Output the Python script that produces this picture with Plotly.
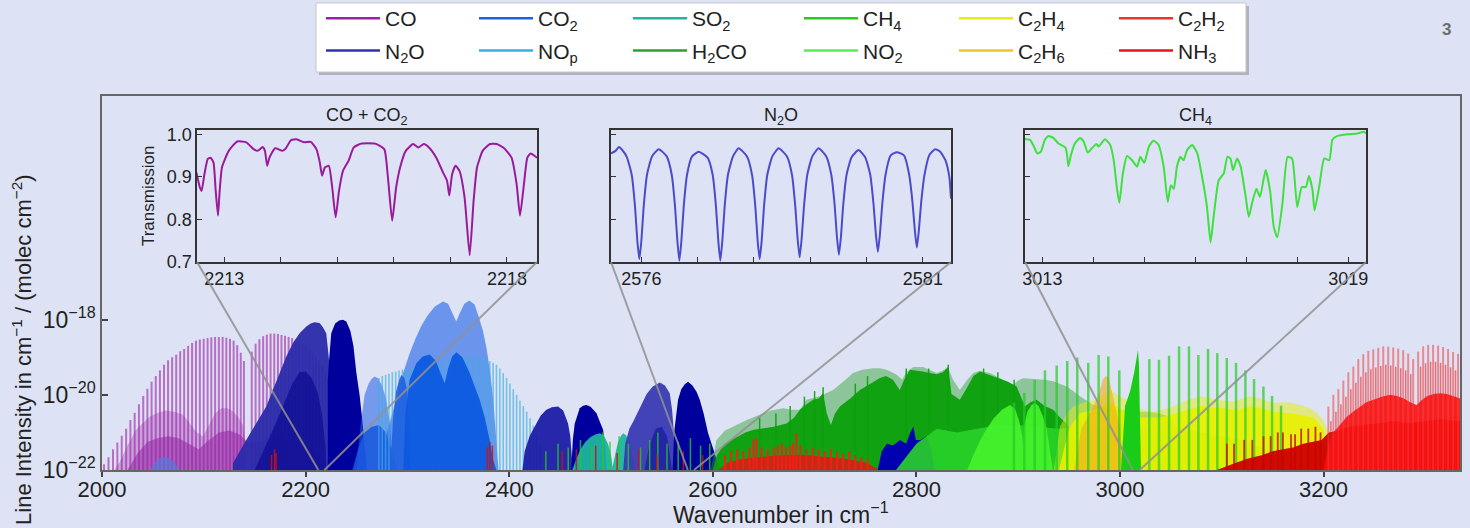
import plotly.graph_objects as go

# ---------------------------------------------------------------- style
FONT = "Liberation Sans, Arial, sans-serif"
BG = "#dde3f4"
INSET_BG = "#e6eaf7"

LABELS = {"CO": "CO", "N2O": "N<sub>2</sub>O", "CO2": "CO<sub>2</sub>", "NOp": "NO<sub>p</sub>",
          "SO2": "SO<sub>2</sub>", "H2CO": "H<sub>2</sub>CO", "CH4": "CH<sub>4</sub>",
          "NO2": "NO<sub>2</sub>", "C2H4": "C<sub>2</sub>H<sub>4</sub>",
          "C2H6": "C<sub>2</sub>H<sub>6</sub>", "C2H2": "C<sub>2</sub>H<sub>2</sub>", "NH3": "NH<sub>3</sub>"}
COLORS = {"CO": "#9c1fa8", "N2O": "#3030b2", "CO2": "#1f5fe6", "NOp": "#3caee6", "SO2": "#1fb3a0",
          "H2CO": "#2ca02c", "CH4": "#22cc22", "NO2": "#55ee55", "C2H4": "#e6ee10",
          "C2H6": "#f2c12e", "C2H2": "#f23030", "NH3": "#e01818"}
LEGEND_COLUMNS = [("CO", "N2O"), ("CO2", "NOp"), ("SO2", "H2CO"), ("CH4", "NO2"), ("C2H4", "C2H6"), ("C2H2", "NH3")]

# ---------------------------------------------------------------- main spectrum data
# wavenumbers in cm^-1, intensities given as log10(line intensity)
CO_P_WN = [2002.0, 2006.4, 2010.8, 2015.1, 2019.4, 2023.7, 2027.9, 2032.1, 2036.3, 2040.5, 2044.6, 2048.7,
           2052.8, 2056.9, 2060.9, 2064.9, 2068.9, 2072.9, 2076.8, 2080.7, 2084.6, 2088.5, 2092.3, 2096.1,
           2099.9, 2103.7, 2107.4, 2111.1, 2114.8, 2118.5, 2122.1, 2125.7, 2129.3, 2132.8, 2136.3, 2139.4]
CO_P_LOG = [-21.85, -21.66, -21.45, -21.27, -21.09, -20.90, -20.67, -20.48, -20.25, -20.03, -19.84, -19.65,
            -19.50, -19.35, -19.20, -19.08, -19.00, -18.93, -18.84, -18.78, -18.70, -18.62, -18.56, -18.53,
            -18.51, -18.49, -18.47, -18.46, -18.46, -18.46, -18.48, -18.51, -18.56, -18.68, -18.88, -19.10]
CO_R_WN = [2147.1, 2150.9, 2154.6, 2158.3, 2161.9, 2165.6, 2169.2, 2172.8, 2176.3, 2179.8, 2183.3, 2186.8,
           2190.2, 2193.6, 2197.0, 2200.3, 2203.6, 2206.9, 2210.1, 2213.3, 2216.5, 2219.6, 2222.7]
CO_R_LOG = [-18.85, -18.64, -18.52, -18.44, -18.40, -18.37, -18.37, -18.38, -18.41, -18.43, -18.46, -18.49,
            -18.53, -18.58, -18.64, -18.71, -18.79, -18.88, -18.98, -19.10, -19.23, -19.38, -19.55]
CO_ISO_WN = [2012.0, 2017.2, 2025.0, 2033.5, 2040.0, 2046.6, 2055.0, 2063.1, 2071.0, 2079.5, 2086.0,
             2092.6, 2099.1, 2105.7, 2111.0, 2117.2, 2123.0, 2128.6, 2134.0, 2138.5, 2141.7, 2146.0]
CO_ISO_LOG = [-22.0, -21.80, -21.35, -20.93, -20.75, -20.58, -20.48, -20.42, -20.45, -20.53, -20.75,
              -20.98, -21.11, -20.76, -20.50, -20.36, -20.36, -20.44, -20.60, -20.80, -21.47, -22.0]
CO_HOT_WN = [2025.0, 2035.0, 2045.0, 2055.0, 2065.0, 2075.0, 2085.0, 2095.0, 2105.0, 2115.0, 2125.0,
             2135.0, 2145.0, 2160.0, 2175.0, 2190.0, 2205.0, 2218.0, 2228.0]
CO_HOT_LOG = [-22.0, -21.55, -21.25, -21.15, -21.1, -21.15, -21.3, -21.45, -21.2, -21.0, -20.95,
              -21.05, -21.3, -21.2, -21.1, -21.2, -21.4, -21.7, -22.0]

N2O_A_WN = [2128.6, 2141.7, 2151.5, 2161.4, 2167.9, 2174.4, 2181.0, 2187.6, 2194.1, 2200.7, 2205.0,
            2208.8, 2213.8, 2217.0, 2220.3, 2222.0, 2223.6]
N2O_A_LOG = [-21.82, -21.20, -20.76, -20.31, -19.87, -19.42, -18.98, -18.62, -18.36, -18.18, -18.10,
             -18.07, -18.09, -18.20, -18.36, -18.80, -19.24]
N2O_B_WN = [2221.8, 2223.0, 2224.2, 2225.2, 2229.0, 2233.0, 2236.7, 2240.0, 2244.0, 2247.0, 2249.8,
            2253.0, 2256.0, 2258.0, 2260.0]
N2O_B_LOG = [-19.6, -19.1, -18.7, -18.36, -18.10, -18.02, -18.00, -18.05, -18.30, -18.70, -19.40,
             -20.00, -20.75, -21.40, -21.90]
N2O_C_WN = [2150.0, 2160.0, 2170.0, 2180.0, 2187.0, 2194.0, 2200.0, 2206.0, 2212.0, 2216.0, 2220.0]
N2O_C_LOG = [-22.0, -21.4, -20.8, -20.15, -19.7, -19.4, -19.38, -19.55, -19.95, -20.5, -21.5]
N2O_D_WN = [2413.0, 2415.2, 2420.0, 2426.7, 2431.0, 2436.5, 2442.0, 2448.0, 2453.0, 2457.8, 2460.0, 2461.5, 2462.5]
N2O_D_LOG = [-22.0, -21.5, -21.1, -20.76, -20.55, -20.40, -20.33, -20.31, -20.42, -20.76, -21.1, -21.64, -22.0]
N2O_E_WN = [2461.0, 2462.5, 2464.4, 2469.3, 2472.5, 2475.9, 2480.0, 2485.7, 2489.0, 2492.2, 2494.5, 2496.0]
N2O_E_LOG = [-22.0, -21.2, -20.76, -20.36, -20.29, -20.27, -20.32, -20.49, -20.7, -20.93, -21.4, -22.0]
N2O_F_WN = [2512.0, 2514.0, 2518.0, 2522.0, 2528.0, 2535.0, 2541.0, 2548.0, 2553.0, 2557.7, 2560.0, 2561.5, 2563.0]
N2O_F_LOG = [-22.0, -21.3, -20.9, -20.7, -20.35, -19.98, -19.78, -19.67, -19.75, -19.96, -20.4, -20.9, -22.0]
N2O_G_WN = [2560.5, 2562.0, 2564.0, 2565.9, 2569.0, 2572.5, 2575.7, 2580.0, 2584.0, 2587.2, 2591.0,
            2595.4, 2600.0, 2603.6, 2607.0]
N2O_G_LOG = [-22.0, -21.0, -20.45, -20.13, -19.85, -19.72, -19.65, -19.75, -19.92, -20.13, -20.5,
             -21.02, -21.4, -21.71, -22.0]
N2O_H_WN = [2762.0, 2766.0, 2771.0, 2777.0, 2784.0, 2790.0, 2794.0, 2797.0, 2799.5, 2804.0, 2810.0, 2814.0, 2818.0]
N2O_H_LOG = [-22.0, -21.5, -21.3, -21.35, -21.2, -21.3, -21.0, -20.84, -21.2, -21.2, -21.1, -21.35, -22.0]
N2O_I_WN = [2533.0, 2538.0, 2544.0, 2550.0, 2555.0, 2560.0]
N2O_I_LOG = [-22.0, -21.3, -20.9, -20.85, -21.1, -22.0]

CO2_MAIN_WN = [2276.0, 2280.0, 2285.0, 2290.0, 2296.0, 2302.2, 2308.0, 2314.0, 2320.0, 2327.0, 2335.0,
               2340.0, 2344.5, 2348.0, 2351.5, 2356.0, 2360.8, 2366.0, 2370.0, 2374.3, 2378.0, 2381.5,
               2384.5, 2387.0, 2389.5]
CO2_MAIN_LOG = [-22.0, -21.0, -20.5, -20.0, -19.4, -18.9, -18.5, -18.15, -17.88, -17.65, -17.52,
                -17.58, -17.82, -18.05, -17.82, -17.58, -17.49, -17.6, -17.92, -18.3, -18.8, -19.45,
                -20.2, -21.0, -22.0]
CO2_SIDE_WN = [2250.0, 2254.0, 2258.0, 2262.0, 2265.0, 2268.0, 2271.0, 2275.0, 2279.0, 2283.0, 2286.0]
CO2_SIDE_LOG = [-22.0, -20.8, -20.0, -19.7, -19.57, -19.51, -19.56, -19.75, -20.1, -20.8, -22.0]
CO2_HOT_WN = [2296.0, 2298.0, 2302.2, 2308.8, 2315.0, 2321.9, 2328.0, 2333.0, 2336.6, 2340.0, 2344.0,
              2348.1, 2354.0, 2361.2, 2366.0, 2371.0, 2376.0, 2380.8, 2384.0, 2387.4]
CO2_HOT_LOG = [-22.0, -20.5, -19.6, -19.16, -18.98, -18.93, -19.1, -19.45, -19.69, -19.3, -18.98,
               -18.87, -19.0, -19.42, -19.75, -20.13, -20.6, -21.2, -21.7, -22.0]
CO2_SMALL_WN = [2283.0, 2286.0, 2289.0, 2292.0, 2294.0, 2297.0, 2300.0, 2303.0]
CO2_SMALL_LOG = [-22.0, -20.6, -19.9, -19.6, -19.47, -19.55, -19.9, -22.0]
CO2_LOW_WN = [2246.0, 2252.0, 2258.0, 2265.0, 2272.0, 2279.0, 2285.0, 2290.0]
CO2_LOW_LOG = [-22.0, -21.4, -21.0, -20.85, -20.8, -21.0, -21.5, -22.0]
CO2_BUMP_WN = [2047.0, 2052.0, 2057.0, 2062.0, 2067.0, 2071.0, 2076.0]
CO2_BUMP_LOG = [-22.0, -21.8, -21.68, -21.65, -21.7, -21.8, -22.0]

NOP_WN = [2272.0, 2275.3, 2278.6, 2281.9, 2285.2, 2288.5, 2291.8, 2295.1, 2298.4, 2301.7, 2305.0, 2308.3,
          2311.6, 2314.9, 2318.2, 2321.5, 2324.8, 2328.1, 2331.4, 2334.7, 2338.0, 2341.3, 2344.6, 2347.9,
          2351.2, 2354.5, 2357.8, 2361.1, 2364.4, 2367.7, 2371.0, 2374.3, 2377.6, 2380.9, 2384.2, 2387.5,
          2390.8, 2394.1, 2397.4, 2400.7, 2404.0, 2407.3, 2410.6, 2413.9, 2417.2, 2420.5, 2423.8, 2427.1, 2430.4]
NOP_LOG = [-19.55, -19.5, -19.47, -19.44, -19.4, -19.38, -19.35, -19.33, -19.31, -19.29, -19.26, -19.24,
           -19.21, -19.18, -19.16, -19.14, -19.12, -19.1, -19.08, -19.07, -19.05, -19.04, -19.02, -19.01,
           -19.0, -18.99, -18.98, -18.98, -18.98, -18.99, -19.0, -19.02, -19.05, -19.1, -19.15, -19.2,
           -19.3, -19.42, -19.55, -19.7, -19.85, -20.0, -20.15, -20.3, -20.45, -20.62, -20.82, -21.05, -21.3]

SO2_A_WN = [2462.0, 2466.0, 2470.0, 2475.0, 2480.0, 2485.0, 2489.0, 2493.0, 2497.0, 2500.0, 2502.0]
SO2_A_LOG = [-22.0, -21.7, -21.45, -21.25, -21.12, -21.05, -21.02, -21.08, -21.3, -21.6, -22.0]
SO2_B_WN = [2501.0, 2504.0, 2507.0, 2510.0, 2512.0, 2515.0, 2518.0, 2521.0, 2524.0]
SO2_B_LOG = [-22.0, -21.6, -21.25, -21.08, -21.02, -21.08, -21.3, -21.6, -22.0]

H2CO_DARK_WN = [2600.0, 2604.0, 2612.0, 2622.0, 2632.0, 2640.0, 2650.0, 2660.0, 2672.4, 2680.0, 2685.5,
                2692.0, 2698.6, 2704.0, 2708.4, 2712.0, 2716.0, 2720.0, 2724.8, 2735.0, 2744.5, 2755.0,
                2764.2, 2770.0, 2777.0, 2783.6, 2788.0, 2793.6, 2800.0, 2806.0, 2813.3, 2820.0, 2826.0,
                2831.3, 2834.5, 2842.7, 2850.0, 2856.0, 2862.4, 2870.0, 2876.0, 2882.0, 2890.0, 2898.5,
                2906.6, 2912.0, 2918.1, 2926.0, 2934.5, 2941.0, 2947.6, 2955.0, 2960.6, 2964.0]
H2CO_DARK_LOG = [-22.0, -21.6, -21.3, -21.15, -21.0, -20.93, -20.9, -20.85, -20.76, -20.6, -20.4,
                 -20.25, -20.13, -20.1, -19.95, -20.5, -20.8, -20.5, -20.31, -20.1, -19.87, -19.7,
                 -19.55, -19.5, -19.6, -19.87, -19.6, -19.33, -19.35, -19.38, -19.42, -19.45, -19.4,
                 -19.26, -19.98, -20.13, -19.8, -19.5, -19.38, -19.45, -19.5, -19.56, -19.65, -19.78,
                 -20.31, -20.2, -20.13, -20.3, -20.4, -20.6, -20.76, -21.2, -21.64, -22.0]
H2CO_LIGHT_WN = [2598.0, 2603.6, 2612.0, 2623.3, 2635.0, 2646.2, 2657.0, 2669.0, 2677.0, 2685.5, 2692.0,
                 2705.0, 2718.2, 2728.0, 2737.9, 2747.0, 2757.5, 2764.0, 2770.7, 2780.0, 2786.0, 2790.0,
                 2796.9, 2806.7, 2813.0, 2819.8, 2826.0, 2831.0, 2836.0, 2842.7, 2850.0, 2856.0, 2862.4,
                 2872.2, 2882.0, 2890.0, 2895.1, 2900.0, 2905.0, 2912.0, 2918.0, 2926.0, 2934.5, 2941.0,
                 2947.6, 2954.0, 2960.6, 2967.0, 2973.8, 2983.0, 2993.4, 3005.0, 3015.0, 3025.0, 3035.0,
                 3045.0, 3052.0, 3058.0, 3062.0]
H2CO_LIGHT_LOG = [-22.0, -21.2, -20.95, -20.8, -20.65, -20.53, -20.42, -20.36, -20.4, -20.4, -20.13,
                  -20.04, -19.87, -19.65, -19.42, -19.33, -19.29, -19.29, -19.33, -19.45, -19.6, -19.4,
                  -19.26, -19.26, -19.33, -19.42, -19.35, -19.26, -19.6, -19.87, -19.6, -19.42, -19.36,
                  -19.42, -19.55, -19.65, -19.73, -19.62, -19.56, -19.57, -19.58, -19.6, -19.64, -19.7,
                  -19.78, -19.9, -20.04, -20.15, -20.27, -20.33, -20.4, -20.42, -20.45, -20.45, -20.48,
                  -20.55, -20.7, -21.0, -22.0]
H2CO_SPIKE_WN = [2646.0, 2662.0, 2676.0, 2690.0, 2700.0, 2708.4, 2740.0, 2752.0, 2790.0, 2812.0, 2831.3,
                 2866.0, 2880.0, 2896.0]
H2CO_SPIKE_LOG = [-20.6, -20.5, -20.3, -20.05, -19.9, -19.8, -19.7, -19.5, -19.3, -19.3, -19.2,
                  -19.3, -19.4, -19.6]

CH4_DENSE_WN = [2780.0, 2800.0, 2820.0, 2840.0, 2860.0, 2880.0, 2900.0, 2920.0, 2940.0, 2960.0, 2980.0,
                3000.0, 3020.0, 3040.0, 3060.0, 3080.0, 3100.0, 3120.0, 3140.0, 3160.0, 3172.0]
CH4_DENSE_LOG = [-22.0, -21.3, -20.9, -21.0, -20.9, -20.8, -20.8, -20.85, -20.9, -20.85, -20.95,
                 -20.8, -20.9, -21.0, -20.9, -21.0, -21.1, -21.2, -21.4, -21.7, -22.0]
CH4_Q_WN = [3001.0, 3005.0, 3010.0, 3014.0, 3016.5, 3017.7, 3018.6, 3019.5, 3021.0]
CH4_Q_LOG = [-22.0, -20.3, -19.9, -19.4, -19.0, -18.8, -19.2, -20.5, -22.0]
CH4_LINE_WN = [2895.8, 2906.0, 2916.2, 2926.3, 2937.8, 2948.2, 2958.0, 2968.8, 2979.0, 2988.5, 2999.3,
               3028.8, 3038.3, 3048.2, 3058.0, 3067.8, 3077.0, 3086.5, 3095.6, 3104.9, 3114.0, 3123.2,
               3131.7, 3140.9, 3149.4, 3158.2]
CH4_LINE_LOG = [-20.2, -19.95, -19.6, -19.35, -19.22, -19.10, -19.01, -19.15, -18.94, -18.98, -19.35,
                -19.05, -19.07, -18.96, -18.71, -18.71, -18.94, -18.78, -18.89, -19.02, -19.15, -19.35,
                -19.58, -19.78, -20.03, -20.29]
CH4_WEAK_WN = [2436.0, 2448.0, 2458.0, 2470.0, 2481.0, 2492.0, 2499.0, 2508.0, 2517.0, 2529.0, 2538.0,
               2546.0, 2555.0, 2566.0, 2578.0, 2588.0, 2597.0]
CH4_WEAK_LOG = [-21.5, -21.3, -21.4, -21.2, -21.35, -21.0, -21.25, -21.1, -21.3, -21.4, -21.2,
                -21.0, -21.3, -21.25, -21.15, -21.35, -21.3]

NO2_A_WN = [2850.0, 2856.0, 2862.0, 2868.0, 2876.0, 2884.0, 2891.9, 2897.0, 2901.0, 2904.0, 2906.0]
NO2_A_LOG = [-22.0, -21.6, -21.25, -20.95, -20.62, -20.4, -20.27, -20.38, -20.7, -21.1, -22.0]
NO2_B_WN = [2903.0, 2906.0, 2909.0, 2913.0, 2916.5, 2920.0, 2924.0, 2928.0, 2931.0, 2934.0]
NO2_B_LOG = [-22.0, -20.8, -20.45, -20.28, -20.22, -20.3, -20.55, -20.9, -21.4, -22.0]

C2H4_LIGHT_WN = [2935.0, 2941.0, 2948.0, 2954.0, 2965.0, 2977.0, 2984.0, 2990.0, 2997.0, 3007.0, 3015.0,
                 3024.0, 3032.7, 3042.0, 3052.4, 3065.0, 3078.6, 3090.0, 3100.0, 3111.3, 3120.0, 3127.8,
                 3138.0, 3150.7, 3160.0, 3170.3, 3180.0, 3186.7, 3194.0, 3199.8, 3205.0, 3209.6, 3213.0]
C2H4_LIGHT_LOG = [-22.0, -20.84, -20.5, -20.31, -20.2, -20.13, -20.0, -19.87, -20.0, -20.13, -20.3,
                  -20.42, -20.45, -20.4, -20.31, -20.15, -20.04, -20.1, -20.15, -20.18, -20.1, -20.04,
                  -20.1, -20.22, -20.2, -20.22, -20.3, -20.36, -20.5, -20.67, -21.0, -21.38, -22.0]
C2H4_SOLID_WN = [2940.0, 2950.0, 2960.0, 2975.0, 2990.0, 3005.0, 3020.0, 3040.0, 3060.0, 3080.0, 3100.0,
                 3115.0, 3130.0, 3150.0, 3170.0, 3190.0, 3200.0, 3206.0]
C2H4_SOLID_LOG = [-22.0, -20.9, -20.5, -20.4, -20.2, -20.45, -20.6, -20.6, -20.45, -20.3, -20.35,
                  -20.4, -20.3, -20.45, -20.5, -20.6, -20.9, -22.0]

C2H6_WN = [2955.0, 2962.0, 2968.0, 2974.0, 2979.0, 2983.0, 2986.0, 2989.0, 2992.0, 2996.0, 3000.0, 3004.0]
C2H6_LOG = [-22.0, -20.9, -20.6, -20.3, -20.0, -19.6, -19.5, -19.55, -19.9, -20.4, -20.9, -22.0]

C2H2_STRONG_WN = [3204.7, 3209.6, 3214.5, 3219.4, 3224.3, 3229.2, 3234.1, 3239.0, 3243.9, 3248.8, 3253.7,
                  3258.6, 3263.5, 3268.4, 3273.3, 3278.2, 3283.1, 3288.0, 3292.9, 3297.8, 3302.7, 3307.6,
                  3312.5, 3317.4, 3322.3, 3327.2, 3332.1]
C2H2_STRONG_LOG = [-20.31, -20.0, -19.85, -19.62, -19.4, -19.25, -19.05, -18.92, -18.83, -18.79, -18.75,
                   -18.71, -18.72, -18.74, -18.77, -18.81, -18.9, -19.05, -18.85, -18.71, -18.67, -18.67,
                   -18.69, -18.73, -18.78, -18.86, -18.91]
C2H2_WEAK_WN = [3207.2, 3212.1, 3217.0, 3221.9, 3226.8, 3231.7, 3236.6, 3241.5, 3246.4, 3251.3, 3256.2,
                3261.1, 3266.0, 3270.9, 3275.8, 3280.7, 3285.6, 3295.3, 3300.2, 3305.1, 3310.0, 3314.9,
                3319.8, 3324.7, 3329.6]
C2H2_WEAK_LOG = [-20.7, -20.45, -20.25, -20.05, -19.85, -19.68, -19.52, -19.4, -19.32, -19.27, -19.23,
                 -19.2, -19.22, -19.25, -19.29, -19.35, -19.45, -19.25, -19.16, -19.12, -19.12, -19.15,
                 -19.2, -19.27, -19.35]
C2H2_BAND_WN = [3200.0, 3205.0, 3209.6, 3216.0, 3222.8, 3229.0, 3235.9, 3242.0, 3249.0, 3257.0, 3265.4,
                3272.0, 3278.4, 3285.0, 3291.5, 3296.0, 3301.4, 3308.0, 3314.5, 3321.0, 3327.6, 3334.0, 3340.0]
C2H2_BAND_LOG = [-22.0, -21.3, -21.0, -20.8, -20.58, -20.45, -20.31, -20.2, -20.13, -20.05, -20.0,
                 -20.03, -20.09, -20.2, -20.27, -20.15, -20.04, -19.98, -19.96, -19.98, -20.04, -20.1, -22.0]

NH3_BAND_WN = [3095.0, 3110.0, 3125.0, 3140.0, 3150.0, 3160.0, 3170.0, 3180.0, 3190.0, 3198.0, 3205.0,
               3215.0, 3225.0, 3240.0, 3255.0, 3270.0, 3285.0, 3300.0, 3315.0, 3334.0, 3340.0]
NH3_BAND_LOG = [-22.0, -21.85, -21.7, -21.6, -21.5, -21.45, -21.4, -21.3, -21.25, -21.2, -21.0,
                -20.95, -20.85, -20.8, -20.75, -20.7, -20.75, -20.7, -20.65, -20.7, -22.0]
NH3_2650_WN = [2606.0, 2615.0, 2630.0, 2650.0, 2670.0, 2690.0, 2710.0, 2730.0, 2750.0, 2764.0]
NH3_2650_LOG = [-22.0, -21.8, -21.7, -21.65, -21.6, -21.6, -21.65, -21.7, -21.8, -22.0]
NH3_2650_LINE_WN = [2612.0, 2618.0, 2624.0, 2630.0, 2636.0, 2640.0, 2643.0, 2648.0, 2654.0, 2660.0,
                    2664.0, 2668.0, 2672.0, 2676.0, 2679.0, 2682.0, 2686.0, 2692.0, 2698.0, 2704.0,
                    2710.0, 2716.0, 2722.0, 2728.0, 2734.0, 2740.0, 2746.0, 2752.0]
NH3_2650_LINE_LOG = [-21.6, -21.5, -21.45, -21.5, -21.4, -21.2, -21.15, -21.4, -21.45, -21.4,
                     -21.35, -21.3, -21.4, -21.35, -21.3, -21.02, -21.35, -21.45, -21.4, -21.45,
                     -21.5, -21.45, -21.5, -21.55, -21.5, -21.6, -21.65, -21.7]
NH3_LINE_WN = [2166.5, 2169.5, 2171.0, 2378.5, 2381.0, 2383.5, 2452.0, 2466.0, 2485.0, 2506.0, 2527.0,
               2545.0, 2571.0, 2590.0, 3105.0, 3112.0, 3122.0, 3130.0, 3141.0, 3148.0, 3155.0, 3160.0,
               3168.0, 3172.0, 3178.0, 3185.0, 3192.0, 3197.0]
NH3_LINE_LOG = [-21.6, -21.45, -21.55, -21.4, -21.25, -21.35, -21.5, -21.45, -21.35, -21.55, -21.45,
                -21.6, -21.5, -21.6, -21.3, -21.3, -21.2, -21.2, -21.1, -21.1, -21.0, -21.0,
                -21.05, -21.05, -20.9, -20.9, -20.85, -21.0]

# ---------------------------------------------------------------- inset transmission data
INSET_CO_WN = [2212.51, 2212.57, 2212.60, 2212.65, 2212.71, 2212.76, 2212.81, 2212.85, 2212.89, 2212.92,
               2212.96, 2213.08, 2213.23, 2213.39, 2213.52, 2213.59, 2213.68, 2213.72, 2213.76, 2213.80,
               2213.90, 2214.03, 2214.09, 2214.18, 2214.28, 2214.41, 2214.53, 2214.63, 2214.69, 2214.73,
               2214.78, 2214.85, 2214.91, 2214.97, 2215.03, 2215.10, 2215.20, 2215.29, 2215.42, 2215.54,
               2215.67, 2215.83, 2215.89, 2215.97, 2216.04, 2216.11, 2216.21, 2216.34, 2216.43, 2216.53,
               2216.62, 2216.75, 2216.87, 2216.94, 2216.98, 2217.03, 2217.09, 2217.16, 2217.25, 2217.34,
               2217.41, 2217.47, 2217.57, 2217.70, 2217.82, 2217.95, 2218.08, 2218.17, 2218.23, 2218.30,
               2218.36, 2218.42, 2218.49, 2218.53]
INSET_CO_T = [0.910, 0.875, 0.867, 0.906, 0.942, 0.945, 0.934, 0.867, 0.809, 0.867,
              0.922, 0.961, 0.983, 0.981, 0.965, 0.961, 0.970, 0.961, 0.926, 0.945,
              0.967, 0.961, 0.967, 0.986, 0.988, 0.981, 0.982, 0.965, 0.934, 0.903,
              0.922, 0.926, 0.875, 0.805, 0.867, 0.914, 0.938, 0.969, 0.978, 0.979,
              0.978, 0.965, 0.906, 0.797, 0.875, 0.922, 0.961, 0.977, 0.969, 0.977,
              0.969, 0.945, 0.910, 0.891, 0.856, 0.906, 0.926, 0.914, 0.852, 0.716,
              0.844, 0.922, 0.961, 0.977, 0.977, 0.967, 0.945, 0.883, 0.809, 0.883,
              0.945, 0.955, 0.949, 0.945]
INSET_N2O_WN = [2575.46, 2575.54, 2575.60, 2575.66, 2575.74,
                2575.828, 2575.887, 2575.928, 2575.964, 2576.000, 2576.041, 2576.100, 2576.189, 2576.308,
                2576.450, 2576.539, 2576.598, 2576.639, 2576.675, 2576.711, 2576.752, 2576.811, 2576.900, 2577.018,
                2577.177, 2577.266, 2577.325, 2577.366, 2577.402, 2577.438, 2577.479, 2577.538, 2577.627, 2577.728,
                2577.876, 2577.965, 2578.024, 2578.065, 2578.101, 2578.137, 2578.178, 2578.237, 2578.326, 2578.438,
                2578.586, 2578.675, 2578.734, 2578.775, 2578.811, 2578.847, 2578.888, 2578.947, 2579.036, 2579.148,
                2579.284, 2579.373, 2579.432, 2579.473, 2579.509, 2579.545, 2579.586, 2579.645, 2579.734, 2579.858,
                2579.976, 2580.065, 2580.124, 2580.165, 2580.201, 2580.237, 2580.278, 2580.337, 2580.426, 2580.538,
                2580.668, 2580.757, 2580.816, 2580.857, 2580.893, 2580.929, 2580.970, 2581.029, 2581.118, 2581.219,
                2581.31, 2581.40, 2581.47, 2581.50]
INSET_N2O_T = [0.955, 0.961, 0.970, 0.963, 0.947,
               0.905, 0.83, 0.75, 0.707, 0.75, 0.83, 0.905, 0.948, 0.965,
               0.948, 0.905, 0.83, 0.75, 0.703, 0.75, 0.83, 0.905, 0.948, 0.959,
               0.945, 0.905, 0.83, 0.75, 0.703, 0.75, 0.83, 0.905, 0.948, 0.967,
               0.948, 0.905, 0.83, 0.75, 0.707, 0.75, 0.83, 0.905, 0.948, 0.967,
               0.948, 0.905, 0.83, 0.755, 0.711, 0.755, 0.83, 0.905, 0.948, 0.967,
               0.948, 0.905, 0.835, 0.76, 0.717, 0.76, 0.835, 0.905, 0.946, 0.963,
               0.946, 0.905, 0.835, 0.765, 0.724, 0.765, 0.835, 0.905, 0.950, 0.958,
               0.950, 0.905, 0.84, 0.775, 0.734, 0.775, 0.84, 0.905, 0.952, 0.965,
               0.959, 0.939, 0.900, 0.849]
INSET_CH4_WN = [3012.66, 3012.76, 3012.82, 3012.90, 3012.97, 3013.05, 3013.12, 3013.22, 3013.31, 3013.45,
                3013.48, 3013.51, 3013.56, 3013.64, 3013.74, 3013.81, 3013.89, 3013.97, 3014.06, 3014.10,
                3014.23, 3014.33, 3014.40, 3014.46, 3014.51, 3014.58, 3014.66, 3014.76, 3014.86, 3014.92,
                3015.00, 3015.09, 3015.18, 3015.28, 3015.38, 3015.46, 3015.52, 3015.58, 3015.64, 3015.71,
                3015.77, 3015.84, 3015.94, 3016.04, 3016.14, 3016.23, 3016.30, 3016.36, 3016.46, 3016.56,
                3016.63, 3016.69, 3016.74, 3016.82, 3016.89, 3016.99, 3017.05, 3017.12, 3017.20, 3017.27,
                3017.38, 3017.47, 3017.54, 3017.61, 3017.71, 3017.81, 3017.90, 3018.00, 3018.09, 3018.17,
                3018.23, 3018.30, 3018.34, 3018.43, 3018.53, 3018.63, 3018.69, 3018.79, 3018.99, 3019.18,
                3019.31, 3019.35]
INSET_CH4_T = [0.988, 0.987, 0.975, 0.955, 0.959, 0.987, 0.996, 0.991, 0.979, 0.969,
               0.955, 0.925, 0.951, 0.979, 0.991, 0.983, 0.957, 0.967, 0.977, 0.971,
               0.988, 0.975, 0.939, 0.876, 0.839, 0.908, 0.949, 0.939, 0.924, 0.947,
               0.933, 0.971, 0.985, 0.975, 0.924, 0.841, 0.880, 0.872, 0.924, 0.947,
               0.939, 0.963, 0.975, 0.955, 0.896, 0.829, 0.746, 0.806, 0.892, 0.908,
               0.947, 0.943, 0.916, 0.943, 0.924, 0.853, 0.806, 0.841, 0.872, 0.853,
               0.916, 0.865, 0.782, 0.758, 0.837, 0.947, 0.943, 0.829, 0.876, 0.876,
               0.902, 0.869, 0.821, 0.876, 0.943, 0.939, 0.987, 0.996, 1.000, 1.002,
               1.006, 1.002]

# ---------------------------------------------------------------- layout constants
XMIN, XMAX = 2000.0, 3334.0
YLOG = [-22.0, -12.05]
BASE = 10 ** -22.5
INSET_YDOM = [0.5561, 0.9091]
INSETS = [  # (x-domain, x-range, tick values, title, data, colour)
    ([0.0700, 0.3203], [2212.52, 2218.53], [2213, 2214, 2215, 2216, 2217, 2218], "CO + CO<sub>2</sub>",
     (INSET_CO_WN, INSET_CO_T), "#9a1a9c"),
    ([0.3748, 0.6252], [2575.46, 2581.50], [2576, 2577, 2578, 2579, 2580, 2581], "N<sub>2</sub>O",
     (INSET_N2O_WN, INSET_N2O_T), "#4b4bcc"),
    ([0.6797, 0.9308], [3012.66, 3019.35], [3013, 3014, 3015, 3016, 3017, 3018, 3019], "CH<sub>4</sub>",
     (INSET_CH4_WN, INSET_CH4_T), "#3fe03f"),
]

for a, b in [(CO_P_WN, CO_P_LOG), (CO_R_WN, CO_R_LOG), (NOP_WN, NOP_LOG), (INSET_CO_WN, INSET_CO_T),
             (INSET_N2O_WN, INSET_N2O_T), (INSET_CH4_WN, INSET_CH4_T), (H2CO_DARK_WN, H2CO_DARK_LOG),
             (H2CO_LIGHT_WN, H2CO_LIGHT_LOG), (C2H2_STRONG_WN, C2H2_STRONG_LOG), (C2H2_WEAK_WN, C2H2_WEAK_LOG),
             (NH3_LINE_WN, NH3_LINE_LOG), (NH3_2650_LINE_WN, NH3_2650_LINE_LOG), (NH3_BAND_WN, NH3_BAND_LOG)]:
    assert len(a) == len(b), (len(a), len(b))


def rgba(hexcol, alpha):
    h = hexcol.lstrip("#")
    return "rgba(%d,%d,%d,%.3f)" % (int(h[0:2], 16), int(h[2:4], 16), int(h[4:6], 16), alpha)


fig = go.Figure()


def add_band(wn, logs, color, alpha):
    xs = [wn[0]] + list(wn) + [wn[-1]]
    ys = [BASE] + [10 ** v for v in logs] + [BASE]
    fig.add_trace(go.Scatter(x=xs, y=ys, mode="lines", fill="toself", fillcolor=rgba(color, alpha),
                             line=dict(width=0, color=rgba(color, alpha)), hoverinfo="skip", showlegend=False))


def add_lines(wn, logs, color, alpha, width):
    xs, ys = [], []
    for w, v in zip(wn, logs):
        xs += [w, w, None]
        ys += [BASE, 10 ** v, None]
    fig.add_trace(go.Scatter(x=xs, y=ys, mode="lines", line=dict(color=rgba(color, alpha), width=width),
                             hoverinfo="skip", showlegend=False))


# legend entries (one small legend per column)
for ci, col in enumerate(LEGEND_COLUMNS):
    for mol in col:
        fig.add_trace(go.Scatter(x=[None], y=[None], mode="lines", name=LABELS[mol],
                                 line=dict(color=COLORS[mol], width=2.5), legendgroup=mol,
                                 legend="legend" if ci == 0 else "legend%d" % (ci + 1)))

# spectrum, drawn back to front
add_band(CO_HOT_WN, CO_HOT_LOG, "#8a1a9a", 0.5)
add_band(CO_ISO_WN, CO_ISO_LOG, COLORS["CO"], 0.32)
add_lines(CO_P_WN, CO_P_LOG, COLORS["CO"], 0.6, 2)
add_lines(CO_R_WN, CO_R_LOG, COLORS["CO"], 0.6, 2)
add_band(CO2_BUMP_WN, CO2_BUMP_LOG, "#5577dd", 0.7)
add_band(N2O_A_WN, N2O_A_LOG, "#2a2aaa", 0.95)
add_band(N2O_C_WN, N2O_C_LOG, "#00008a", 0.55)
add_band(N2O_B_WN, N2O_B_LOG, "#00009c", 1.0)
add_band(CO2_LOW_WN, CO2_LOW_LOG, "#1555d8", 0.9)
add_band(CO2_SIDE_WN, CO2_SIDE_LOG, COLORS["CO2"], 0.55)
add_band(CO2_MAIN_WN, CO2_MAIN_LOG, COLORS["CO2"], 0.6)
add_lines(NOP_WN, NOP_LOG, COLORS["NOp"], 0.65, 1.6)
add_band(CO2_SMALL_WN, CO2_SMALL_LOG, "#1f60e0", 0.9)
add_band(CO2_HOT_WN, CO2_HOT_LOG, "#0d5ae0", 0.95)
add_band(N2O_D_WN, N2O_D_LOG, "#1c1ca6", 0.95)
add_band(N2O_E_WN, N2O_E_LOG, "#00009e", 1.0)
add_band(SO2_A_WN, SO2_A_LOG, COLORS["SO2"], 0.95)
add_band(SO2_B_WN, SO2_B_LOG, COLORS["SO2"], 0.95)
add_band(N2O_F_WN, N2O_F_LOG, "#3a3ab4", 0.95)
add_band(N2O_I_WN, N2O_I_LOG, "#10109a", 0.6)
add_band(N2O_G_WN, N2O_G_LOG, "#00009c", 1.0)
add_lines(CH4_WEAK_WN, CH4_WEAK_LOG, COLORS["CH4"], 0.8, 1.5)
add_lines(NH3_LINE_WN[:14], NH3_LINE_LOG[:14], "#cc1010", 0.85, 1.5)
add_band(H2CO_LIGHT_WN, H2CO_LIGHT_LOG, COLORS["H2CO"], 0.45)
add_band(H2CO_DARK_WN, H2CO_DARK_LOG, "#0aa00a", 0.95)
add_lines(H2CO_SPIKE_WN, H2CO_SPIKE_LOG, "#0aa00a", 0.9, 1.5)
add_band(NH3_2650_WN, NH3_2650_LOG, "#ee1010", 0.8)
add_lines(NH3_2650_LINE_WN, NH3_2650_LINE_LOG, "#ff1a1a", 0.9, 2)
add_band(N2O_H_WN, N2O_H_LOG, "#0000b0", 1.0)
add_band(CH4_DENSE_WN, CH4_DENSE_LOG, "#2ad22a", 0.9)
add_band(NO2_A_WN, NO2_A_LOG, "#45f02a", 0.95)
add_band(NO2_B_WN, NO2_B_LOG, "#45f02a", 0.95)
add_band(C2H4_LIGHT_WN, C2H4_LIGHT_LOG, COLORS["C2H4"], 0.5)
add_band(C2H4_SOLID_WN, C2H4_SOLID_LOG, "#e8f000", 0.9)
add_band(C2H6_WN, C2H6_LOG, "#f5a81e", 0.6)
add_band(CH4_Q_WN, CH4_Q_LOG, "#18cc18", 1.0)
add_lines(CH4_LINE_WN, CH4_LINE_LOG, COLORS["CH4"], 0.7, 2.5)
add_lines(NH3_LINE_WN[14:], NH3_LINE_LOG[14:], "#cc1010", 0.85, 1.8)
add_band(NH3_BAND_WN, NH3_BAND_LOG, "#cc0000", 0.95)
add_band(C2H2_BAND_WN, C2H2_BAND_LOG, "#ff0a0a", 0.9)
add_lines(C2H2_WEAK_WN, C2H2_WEAK_LOG, "#ee2020", 0.6, 1.5)
add_lines(C2H2_STRONG_WN, C2H2_STRONG_LOG, "#f04040", 0.55, 2)

# insets
for i, (dom, xr, tv, title, (wn, tr), col) in enumerate(INSETS):
    k = i + 2
    fig.add_trace(go.Scatter(x=wn, y=tr, mode="lines", line=dict(color=col, width=2, shape="spline", smoothing=0.5),
                             xaxis="x%d" % k, yaxis="y%d" % k, showlegend=False, hoverinfo="skip"))

axis_common = dict(showgrid=False, zeroline=False, showline=True, mirror=True)
layout_axes = {}
layout_axes["xaxis"] = dict(axis_common, range=[XMIN, XMAX], tickvals=[2000, 2200, 2400, 2600, 2800, 3000, 3200],
                            ticks="outside", ticklen=5, tickwidth=1.5, tickcolor="#444", linecolor="#666", linewidth=1.5,
                            ticklabelstandoff=-6,
                            tickfont=dict(size=22, color="#222", family=FONT), domain=[0, 1])
layout_axes["yaxis"] = dict(axis_common, type="log", range=YLOG, tickvals=[1e-22, 1e-20, 1e-18],
                            ticktext=["10<sup>\u221222</sup>", "10<sup>\u221220</sup>", "10<sup>\u221218</sup>"],
                            ticks="inside", ticklen=6, tickwidth=1.5, tickcolor="#444", linecolor="#666", linewidth=1.5,
                            tickfont=dict(size=23, color="#222", family=FONT), domain=[0, 1])
shapes = []
annotations = []
for i, (dom, xr, tv, title, data, col) in enumerate(INSETS):
    k = i + 2
    layout_axes["xaxis%d" % k] = dict(axis_common, domain=dom, range=xr, anchor="y%d" % k, tickvals=tv,
                                      ticktext=[str(tv[0])] + [""] * (len(tv) - 2) + [str(tv[-1])],
                                      ticks="inside", ticklen=5, tickcolor="#333", linecolor="#333", linewidth=1.5,
                                      tickfont=dict(size=18, color="#222", family=FONT))
    layout_axes["yaxis%d" % k] = dict(axis_common, domain=INSET_YDOM, range=[0.7, 1.01], anchor="x%d" % k,
                                      tickvals=[0.7, 0.8, 0.9, 1.0], ticktext=["0.7", "0.8", "0.9", "1.0"],
                                      showticklabels=(i == 0), ticks="inside", ticklen=5, tickcolor="#333",
                                      linecolor="#333", linewidth=1.5, tickfont=dict(size=18, color="#222", family=FONT))
    shapes.append(dict(type="rect", xref="paper", yref="paper", x0=dom[0], x1=dom[1], y0=INSET_YDOM[0],
                       y1=INSET_YDOM[1], fillcolor=INSET_BG, line=dict(width=0), layer="below"))
    # zoom connectors from inset corners down to the zoomed range on the main axis
    for j in (0, 1):
        shapes.append(dict(type="line", xref="x", yref="paper", x0=XMIN + dom[j] * (XMAX - XMIN), y0=INSET_YDOM[0],
                           x1=xr[j], y1=0, line=dict(color="rgba(145,145,145,0.85)", width=2), layer="above"))
    annotations.append(dict(text=title, xref="paper", yref="paper", x=(dom[0] + dom[1]) / 2, y=0.945,
                            showarrow=False, xanchor="center", yanchor="middle",
                            font=dict(size=18, color="#222", family=FONT)))

annotations.append(dict(text="Transmission", xref="paper", yref="paper", x=0.0339, y=0.7326, textangle=-90,
                        showarrow=False, xanchor="center", yanchor="middle", font=dict(size=17, color="#222", family=FONT)))
annotations.append(dict(text="Line Intensity in cm<sup>\u22121</sup> / (molec cm<sup>\u22122</sup>)", xref="paper",
                        yref="paper", x=-0.0589, y=0.321, textangle=-90, showarrow=False, xanchor="center",
                        yanchor="middle", font=dict(size=22, color="#222", family=FONT)))
annotations.append(dict(text="Wavenumber in cm<sup>\u22121</sup>", xref="paper", yref="paper", x=0.5, y=-0.115,
                        showarrow=False, xanchor="center", yanchor="middle", font=dict(size=23, color="#222", family=FONT)))
annotations.append(dict(text="<b>3</b>", xref="paper", yref="paper", x=0.9904, y=1.177, showarrow=False,
                        xanchor="center", yanchor="middle", font=dict(size=17, color="#6d6d6d", family=FONT)))

# legend frame
shapes.append(dict(type="rect", xref="paper", yref="paper", x0=0.1598, x1=0.8446, y0=1.0561, y1=1.2406,
                   fillcolor="rgba(90,90,90,0.35)", line=dict(width=0), layer="above"))
shapes.append(dict(type="rect", xref="paper", yref="paper", x0=0.1576, x1=0.8424, y0=1.0642, y1=1.2487,
                   fillcolor="white", line=dict(color="#c8c8c8", width=1), layer="above"))

LEGEND_LINE_PX = [324, 477, 631, 802, 957, 1117]
legends = {}
for ci, px in enumerate(LEGEND_LINE_PX):
    key = "legend" if ci == 0 else "legend%d" % (ci + 1)
    legends[key] = dict(x=(px - 3 - 102) / 1358.0, y=1.262, xanchor="left", yanchor="top", orientation="v",
                        bgcolor="rgba(0,0,0,0)", borderwidth=0, traceorder="grouped", tracegroupgap=2,
                        itemwidth=54, font=dict(size=21, color="#222", family=FONT))

fig.update_layout(width=1470, height=528, autosize=False,
                  margin=dict(l=102, r=10, t=96, b=58, autoexpand=False),
                  paper_bgcolor=BG, plot_bgcolor=BG, shapes=shapes, annotations=annotations,
                  font=dict(family=FONT, color="#222"), **layout_axes, **legends)

fig.write_html("out.html", config={"displayModeBar": False},
               post_script="document.body.style.margin='0';")
